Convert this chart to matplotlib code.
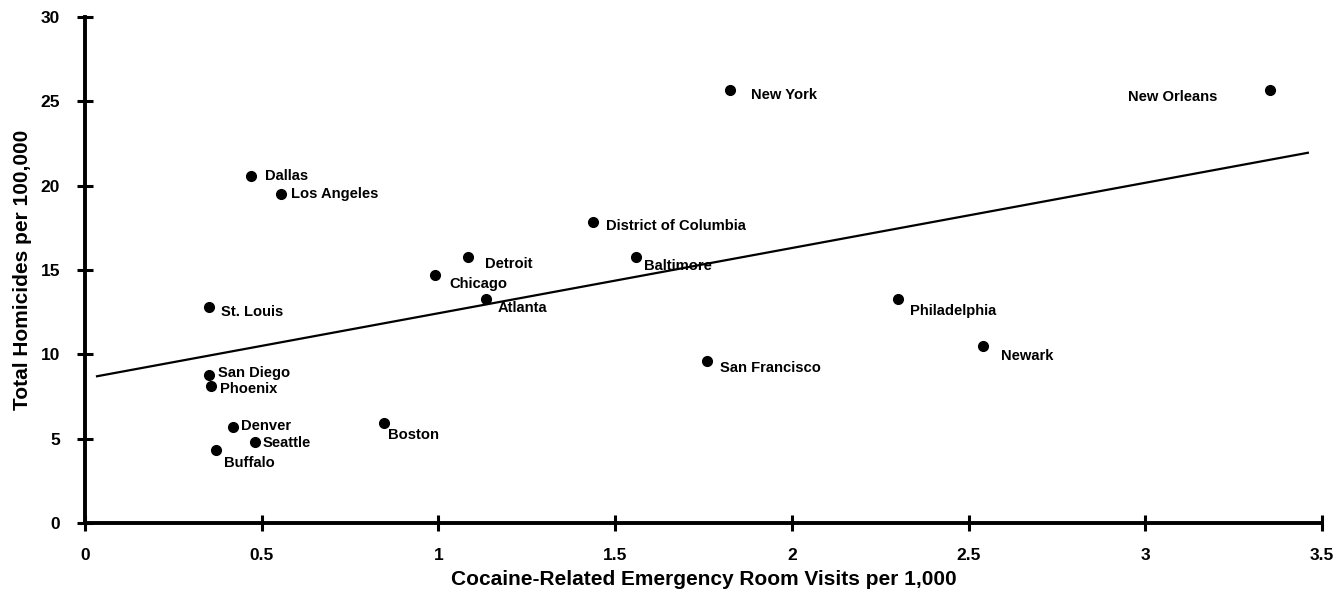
import matplotlib
matplotlib.use("Agg")
import matplotlib.pyplot as plt

cities = ["Dallas", "Los Angeles", "Chicago", "St. Louis", "San Diego", "Phoenix",
          "Denver", "Seattle", "Buffalo", "Boston", "Detroit", "Atlanta",
          "District of Columbia", "Baltimore", "San Francisco", "New York",
          "New Orleans", "Philadelphia", "Newark"]
cocaine_er = [0.47, 0.555, 0.99, 0.35, 0.35, 0.357, 0.42, 0.48, 0.37, 0.845,
              1.085, 1.135, 1.436, 1.558, 1.76, 1.825, 3.354, 2.30, 2.54]
homicides = [20.6, 19.5, 14.7, 12.8, 8.75, 8.15, 5.7, 4.8, 4.35, 5.9,
             15.8, 13.3, 17.85, 15.8, 9.6, 25.65, 25.65, 13.3, 10.5]
fit_x = [0.034, 3.46]
fit_y = [8.7, 21.95]
xticks = [0, 0.5, 1, 1.5, 2, 2.5, 3, 3.5]
xtick_labels = ["0", "0.5", "1", "1.5", "2", "2.5", "3", "3.5"]
yticks = [0, 5, 10, 15, 20, 25, 30]

# label offsets in pixels (dx, dy) and horizontal alignment
offsets = {
    "Dallas": (14, 0, "left"), "Los Angeles": (10, 0, "left"),
    "Chicago": (14, -9, "left"), "St. Louis": (12, -5, "left"),
    "San Diego": (9, 2, "left"), "Phoenix": (9, -3, "left"),
    "Denver": (8, 1, "left"), "Seattle": (8, -1, "left"),
    "Buffalo": (8, -13, "left"), "Boston": (4, -12, "left"),
    "Detroit": (17, -7, "left"), "Atlanta": (11, -9, "left"),
    "District of Columbia": (13, -4, "left"), "Baltimore": (8, -9, "left"),
    "San Francisco": (13, -7, "left"), "New York": (21, -5, "left"),
    "New Orleans": (-53, -7, "right"), "Philadelphia": (12, -12, "left"),
    "Newark": (18, -10, "left"),
}

plt.rcParams['font.family'] = ['Liberation Sans', 'DejaVu Sans']
fig = plt.figure(figsize=(13.41, 6.03), dpi=100)
ax = fig.add_axes([85/1341, 1 - 523/603, (1322 - 85)/1341, (523 - 17)/603])

ax.plot(fit_x, fit_y, color="black", linewidth=1.6)
ax.plot(cocaine_er, homicides, "o", color="black", markersize=7, linestyle="none")
for c, x, y in zip(cities, cocaine_er, homicides):
    dx, dy, ha = offsets[c]
    ax.annotate(c, (x, y), xytext=(dx, dy), textcoords="offset pixels",
                ha=ha, va="center", fontsize=10.6, fontweight="bold", color="black")

ax.set_xlim(0, 3.5)
ax.set_ylim(0, 30)
ax.set_xticks(xticks)
ax.set_xticklabels(xtick_labels)
ax.set_yticks(yticks)
for s in ["top", "right"]:
    ax.spines[s].set_visible(False)
for s in ["left", "bottom"]:
    ax.spines[s].set_linewidth(2.8)
ax.tick_params(direction="inout", length=12, width=2.2, labelsize=12.5)
ax.tick_params(axis="x", pad=12)
ax.tick_params(axis="y", pad=12)
for lbl in ax.get_xticklabels() + ax.get_yticklabels():
    lbl.set_fontweight("bold")
ax.set_xlabel("Cocaine-Related Emergency Room Visits per 1,000", fontsize=15,
              fontweight="bold", labelpad=5)
ax.set_ylabel("Total Homicides per 100,000", fontsize=15, fontweight="bold", labelpad=6)

fig.savefig("out.png", dpi=100)
